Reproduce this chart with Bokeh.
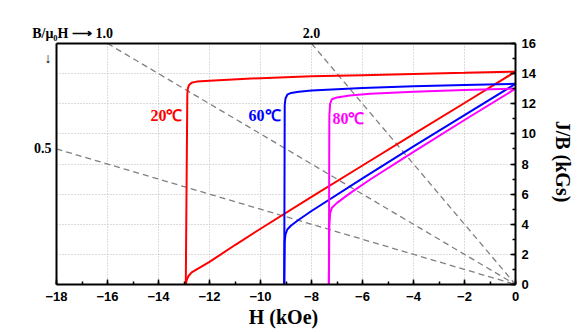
import math
from bokeh.plotting import figure
from bokeh.models import LinearAxis, FixedTicker, Grid, ColumnDataSource, Range1d
from bokeh.core.properties import value
from bokeh.embed import file_html
from bokeh.resources import INLINE

# ---------------- data ----------------
# 20 C (red)
H_red_J = [0, -2, -4, -6, -8, -10, -12, -12.5, -12.7, -12.8, -12.85, -12.87, -12.93]
J_red = [14.13, 14.05, 13.98, 13.9, 13.82, 13.7, 13.53, 13.47, 13.4, 13.25, 13.0, 12.6, 0]
H_red_B = [0, -2, -4, -6, -8, -10, -11, -12, -12.4, -12.7, -12.83, -12.9, -12.93]
B_red = [14.13, 12.05, 9.98, 7.9, 5.82, 3.7, 2.62, 1.5, 1.1, 0.8, 0.55, 0.25, 0]

# 60 C (blue)
H_blue = [0, -2, -4, -6, -8, -8.5, -8.8, -8.95, -9.02, -9.05, -9.07]
J_blue = [13.32, 13.25, 13.17, 13.05, 12.88, 12.8, 12.72, 12.6, 12.35, 11.9, 0]
B_blue = [13.32, 11.25, 9.17, 7.05, 4.88, 4.3, 3.92, 3.65, 3.33, 2.85, 0]

# 80 C (magenta)
H_mag = [0, -2, -4, -5.7, -6.5, -7.0, -7.2, -7.27, -7.3, -7.32]
J_mag = [13.0, 12.92, 12.8, 12.67, 12.55, 12.42, 12.3, 12.0, 11.2, 0]
B_mag = [13.0, 10.92, 8.8, 6.97, 6.05, 5.42, 5.1, 4.73, 3.9, 0]

# load lines B/mu0H
permeance = [0.5, 1.0, 2.0]
permeance_labels = ["0.5", "1.0", "2.0"]
permeance_title = "B/\u03bc\u2080H \u27f6 "

# curve labels
temp_text = ["20\u2103", "60\u2103", "80\u2103"]
temp_H = [-13.69, -9.84, -6.55]
temp_B = [11.2, 11.2, 11.0]
temp_colors = ["#ff0000", "#0000ff", "#ff00ff"]

x_ticks = [-18, -16, -14, -12, -10, -8, -6, -4, -2, 0]
y_ticks = [0, 2, 4, 6, 8, 10, 12, 14, 16]

XMIN, XMAX, YMIN, YMAX = -18, 0, 0, 16

# ---------------- figure ----------------
p = figure(width=585, height=332, x_range=Range1d(XMIN, XMAX), y_range=Range1d(YMIN, YMAX),
           x_axis_location="below", y_axis_location="right",
           output_backend="svg", toolbar_location=None,
           min_border_left=56, min_border_right=70, min_border_top=43, min_border_bottom=48)
p.background_fill_color = "white"
p.border_fill_color = "white"
p.outline_line_color = None
p.xgrid.visible = False
p.ygrid.visible = False

serif = value("Liberation Serif")

xa = p.xaxis[0]
xa.ticker = FixedTicker(ticks=x_ticks, minor_ticks=list(range(-18, 1)))
ya = p.yaxis[0]
ya.ticker = FixedTicker(ticks=y_ticks, minor_ticks=list(range(0, 17)))
for ax in (xa, ya):
    ax.axis_line_width = 2
    ax.axis_line_color = "black"
    ax.major_tick_in = 5
    ax.major_tick_out = 0
    ax.minor_tick_in = 3
    ax.minor_tick_out = 0
    ax.major_tick_line_width = 1.5
    ax.minor_tick_line_width = 1.5
    ax.major_label_text_font = "Liberation Sans"
    ax.major_label_text_font_style = "bold"
    ax.major_label_text_font_size = "13px"
    ax.major_label_text_color = "black"
    ax.axis_label_text_font = "Liberation Serif"
    ax.axis_label_text_font_style = "bold"
    ax.axis_label_text_font_size = "20px"
    ax.axis_label_text_color = "black"
xa.major_label_standoff = 7
ya.major_label_standoff = 6
xa.axis_label = "H  (kOe)"
xa.axis_label_standoff = 2
ya.axis_label = "J/B  (kGs)"
ya.axis_label_standoff = 13

# load-line endpoints and top/left axis labels
top_ticks, top_over, left_ticks, left_over = [], {}, [], {}
load_xs, load_ys = [], []
first_top = True
for P, lab in zip(permeance, permeance_labels):
    h_end = max(XMIN, -YMAX / P)
    b_end = -P * h_end
    load_xs.append([h_end, 0])
    load_ys.append([b_end, 0])
    if h_end > XMIN:
        if first_top:
            # title text placed in front of the first top label
            pos = h_end - 1.37
            top_ticks.append(pos)
            top_over[pos] = permeance_title + lab
            first_top = False
        else:
            top_ticks.append(h_end)
            top_over[h_end] = lab
    else:
        left_ticks.append(b_end)
        left_over[b_end] = lab
# downward arrow under the title
arrow_pos = 15.0
left_ticks.append(arrow_pos)
left_over[arrow_pos] = "\u2193"

top_ax = LinearAxis(ticker=FixedTicker(ticks=top_ticks), major_label_overrides=top_over)
left_ax = LinearAxis(ticker=FixedTicker(ticks=left_ticks), major_label_overrides=left_over)
for ax in (top_ax, left_ax):
    ax.axis_line_width = 2
    ax.axis_line_color = "black"
    ax.major_tick_in = 0
    ax.major_tick_out = 0
    ax.minor_tick_in = 0
    ax.minor_tick_out = 0
    ax.major_label_text_font = "Liberation Serif"
    ax.major_label_text_font_style = "bold"
    ax.major_label_text_font_size = "14px"
    ax.major_label_text_color = "black"
top_ax.major_label_standoff = 3
left_ax.major_label_standoff = 5
left_ax.major_label_orientation = "horizontal"
p.add_layout(top_ax, "above")
p.add_layout(left_ax, "left")

# dotted grids
gx = Grid(dimension=0, ticker=FixedTicker(ticks=x_ticks), grid_line_color="#b8b8b8",
          grid_line_dash="1 2", grid_line_width=1)
gy = Grid(dimension=1, ticker=FixedTicker(ticks=y_ticks), grid_line_color="#b8b8b8",
          grid_line_dash="1 2", grid_line_width=1)
p.add_layout(gx)
p.add_layout(gy)

# load lines
p.multi_line(load_xs, load_ys, line_color="#808080", line_width=1.3, line_dash="6 4")

# curves
lw = 2
p.line(H_red_J, J_red, line_color="#ff0000", line_width=lw)
p.line(H_red_B, B_red, line_color="#ff0000", line_width=lw)
p.line(H_blue, J_blue, line_color="#0000ff", line_width=lw)
p.line(H_blue, B_blue, line_color="#0000ff", line_width=lw)
p.line(H_mag, J_mag, line_color="#ff00ff", line_width=lw)
p.line(H_mag, B_mag, line_color="#ff00ff", line_width=lw)

# temperature labels
src = ColumnDataSource(dict(x=temp_H, y=temp_B, t=temp_text, c=temp_colors))
p.text(x="x", y="y", text="t", text_color="c", source=src, text_font=serif,
       text_font_style="bold", text_font_size="16px", text_align="center",
       text_baseline="middle")

open("out.html", "w").write(file_html(p, INLINE))
